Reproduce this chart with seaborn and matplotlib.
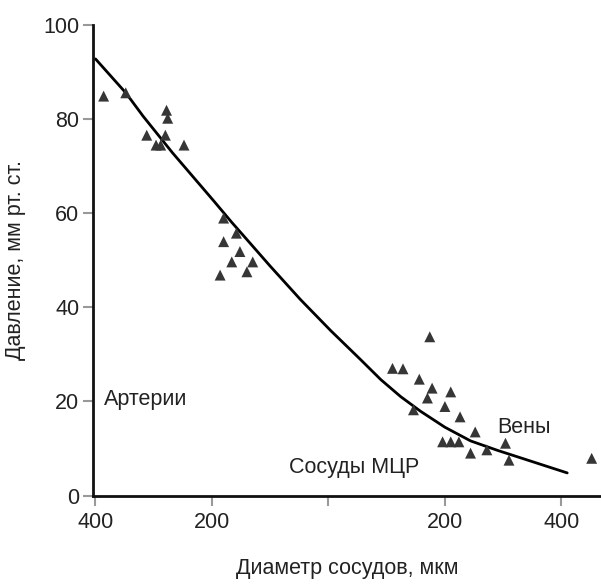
import numpy as np
import pandas as pd
import matplotlib
matplotlib.use("Agg")
import matplotlib.pyplot as plt
import seaborn as sns


# x is a position along the vessel bed: 0 = artery 400 um, 2 = capillaries, 4 = vein 400 um
x_ticks = [0, 1, 2, 3, 4]
x_tick_labels = ["400", "200", "", "200", "400"]
y_ticks = [0, 20, 40, 60, 80, 100]

tri_pos = [0.07, 0.26, 0.44, 0.52, 0.56, 0.60, 0.61, 0.62, 0.76,
           1.10, 1.10, 1.21, 1.24, 1.17, 1.35, 1.30, 1.07,
           2.87, 2.55, 2.64, 2.78, 2.89, 2.85, 3.05, 3.00, 2.73, 3.13,
           3.26, 2.98, 3.05, 3.12, 3.22, 3.52, 3.36, 3.55, 4.26]
tri_pressure = [84.8, 85.5, 76.5, 74.4, 74.4, 76.5, 81.8, 80.1, 74.4,
                58.9, 53.9, 55.7, 51.8, 49.6, 49.6, 47.5, 46.8,
                33.7, 27.0, 26.9, 24.7, 22.8, 20.7, 22.0, 18.9, 18.2, 16.7,
                13.5, 11.4, 11.4, 11.4, 9.0, 11.1, 9.7, 7.5, 7.9]

curve_pos = [0.0, 0.26, 0.41, 0.66, 1.01, 1.17, 1.33, 1.50, 1.76, 2.02, 2.27,
             2.45, 2.62, 2.79, 3.00, 3.22, 3.45, 3.65, 3.85, 4.05]
curve_pressure = [92.7, 85.5, 80.5, 72.8, 62.7, 58.0, 53.5, 48.7, 41.6, 35.0, 29.0,
                  24.6, 21.0, 17.9, 14.5, 11.6, 9.6, 8.0, 6.4, 4.8]

points = pd.DataFrame({"pos": tri_pos, "pressure": tri_pressure})
curve = pd.DataFrame({"pos": curve_pos, "pressure": curve_pressure})

sns.set_theme(style="ticks")
plt.rcParams["font.family"] = ["Liberation Sans", "DejaVu Sans"]

fs = 15.5
fig = plt.figure(figsize=(6.01, 5.84), dpi=100)
ax = fig.add_axes([0.155, 0.1515, 0.845, 0.8065])

sns.lineplot(data=curve, x="pos", y="pressure", sort=False,
             color="black", linewidth=2, ax=ax)
sns.scatterplot(data=points, x="pos", y="pressure", marker="^",
                color="#363636", s=62, edgecolor="none", ax=ax, zorder=3)

ax.set_xlim(-0.02, 4.34)
ax.set_ylim(0, 100)
ax.set_xticks(x_ticks)
ax.set_xticklabels(x_tick_labels)
ax.set_yticks(y_ticks)

ax.tick_params(axis="both", labelsize=fs, colors="#999999",
               labelcolor="#222222", length=7, width=1.5)
ax.tick_params(axis="x", pad=5)
ax.tick_params(axis="y", pad=3)

for side in ["top", "right"]:
    ax.spines[side].set_visible(False)
for side in ["left", "bottom"]:
    ax.spines[side].set_linewidth(2)
    ax.spines[side].set_color("#111111")

ax.set_xlabel("Диаметр сосудов, мкм", fontsize=fs, color="#222222", labelpad=18)
ax.set_ylabel("Давление, мм рт. ст.", fontsize=fs, color="#222222", labelpad=12)

ax.text(0.07, 20.3, "Артерии", fontsize=fs, color="#222222", va="center", ha="left")
ax.text(1.66, 5.9, "Сосуды МЦР", fontsize=fs, color="#222222", va="center", ha="left")
ax.text(3.45, 14.5, "Вены", fontsize=fs, color="#222222", va="center", ha="left")

fig.savefig("out.png", dpi=100)
